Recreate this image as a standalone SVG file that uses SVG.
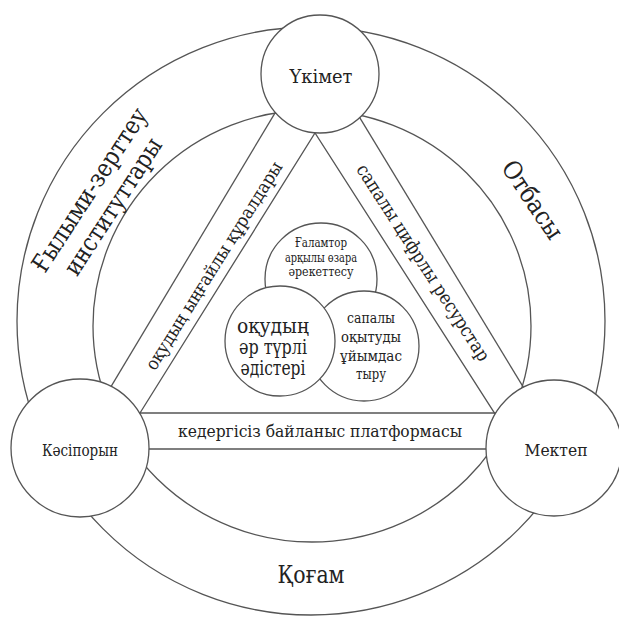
<svg xmlns="http://www.w3.org/2000/svg" width="619" height="617" viewBox="0 0 619 617">
<style>
.ln{stroke:#555;stroke-width:1.3;fill:none}
.nd{stroke:#555;stroke-width:1.3;fill:#fff}
.t{font-family:"DejaVu Serif Condensed","DejaVu Serif",serif;font-stretch:condensed;fill:#222;text-anchor:middle}
</style>
<rect width="619" height="617" fill="#fff"/>
<g id="rings">
<circle class="ln" cx="311" cy="321" r="294"/>
<ellipse class="ln" cx="312" cy="326" rx="219" ry="216"/>
</g>
<g id="connectors">
<line class="ln" x1="101.7" y1="402.2" x2="290.4" y2="87.3"/>
<polyline class="ln" points="120,445 315,133 515,445"/>
<line class="ln" x1="344.4" y1="92.4" x2="532.4" y2="402.1"/>
<line class="ln" x1="100" y1="413" x2="520" y2="413"/>
<line class="ln" x1="100" y1="449" x2="520" y2="449"/>
</g>
<g id="labels" class="t">
<text font-size="25" textLength="190" lengthAdjust="spacingAndGlyphs" transform="translate(96.7,194.4) rotate(-57)">Ғылыми-зерттеу</text>
<text font-size="25" textLength="158" lengthAdjust="spacingAndGlyphs" transform="translate(120,211) rotate(-57)">институттары</text>
<text font-size="25" textLength="89" lengthAdjust="spacingAndGlyphs" transform="translate(525.4,204.5) rotate(56)">Отбасы</text>
<text font-size="25" textLength="67" lengthAdjust="spacingAndGlyphs" x="311" y="583">Қоғам</text>
<text font-size="18" textLength="242" lengthAdjust="spacingAndGlyphs" transform="translate(219,269) rotate(-58)">оқудың ыңғайлы құралдары</text>
<text font-size="18.5" textLength="230" lengthAdjust="spacingAndGlyphs" transform="translate(418,266) rotate(57.3)">сапалы цифрлы ресурстар</text>
<text font-size="17.5" textLength="284" lengthAdjust="spacingAndGlyphs" x="320" y="437">кедергісіз байланыс платформасы</text>
</g>
<g id="n-top" class="t"><circle class="nd" cx="320" cy="74" r="59"/><text font-size="18" textLength="63" lengthAdjust="spacingAndGlyphs" x="321" y="83">Үкімет</text></g>
<g id="n-left" class="t"><circle class="nd" cx="80" cy="448" r="69"/><text font-size="16" textLength="76" lengthAdjust="spacingAndGlyphs" x="80" y="456">Кәсіпорын</text></g>
<g id="n-right" class="t"><circle class="nd" cx="554" cy="448" r="68"/><text font-size="17" textLength="63" lengthAdjust="spacingAndGlyphs" x="556" y="456">Мектеп</text></g>
<g id="c-top" class="t"><circle class="nd" cx="321" cy="279" r="56"/>
<text font-size="12" textLength="52" lengthAdjust="spacingAndGlyphs" x="321" y="247">Ғаламтор</text>
<text font-size="12" textLength="72" lengthAdjust="spacingAndGlyphs" x="321" y="262">арқылы өзара</text>
<text font-size="12" textLength="65" lengthAdjust="spacingAndGlyphs" x="321" y="276">әрекеттесу</text></g>
<g id="c-right" class="t"><circle class="nd" cx="364" cy="346" r="55"/>
<text font-size="15.5" textLength="48" lengthAdjust="spacingAndGlyphs" x="371" y="323">сапалы</text>
<text font-size="15.5" textLength="60" lengthAdjust="spacingAndGlyphs" x="371" y="342">оқытуды</text>
<text font-size="15.5" textLength="62" lengthAdjust="spacingAndGlyphs" x="371" y="361">ұйымдас</text>
<text font-size="15.5" textLength="30" lengthAdjust="spacingAndGlyphs" x="371" y="379">тыру</text></g>
<g id="c-left" class="t"><circle class="nd" cx="280" cy="341" r="55"/>
<text font-size="19.5" textLength="72" lengthAdjust="spacingAndGlyphs" x="273" y="333">оқудың</text>
<text font-size="19.5" textLength="68" lengthAdjust="spacingAndGlyphs" x="273" y="354">әр түрлі</text>
<text font-size="19.5" textLength="65" lengthAdjust="spacingAndGlyphs" x="273" y="375">әдістері</text></g>
</svg>
